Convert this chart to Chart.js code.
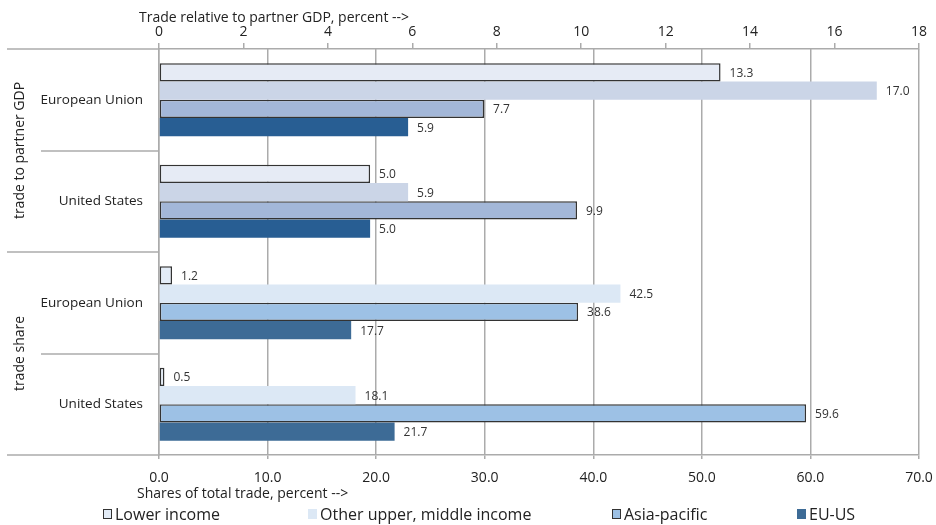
<!DOCTYPE html>
<html>
<head>
<meta charset="utf-8">
<script src="https://cdn.jsdelivr.net/npm/chart.js@4.4.1/dist/chart.umd.min.js"></script>
<style>
body{margin:0;background:#fff;font-family:"Open Sans",sans-serif;}
#caja{position:relative;width:936px;height:525px;}
.leyenda{position:absolute;top:503px;display:flex;align-items:center;font-size:16px;color:#222;white-space:nowrap;height:22px;}
.cuadro{display:inline-block;width:9px;height:10px;margin-right:3px;box-sizing:border-box;}
</style>
</head>
<body>

<div id="caja">
<canvas id="grafico" width="936" height="525"></canvas>
<div id="leyenda"></div>
</div>

<script>

/* ============================= */
/* DATOS */
/* ============================= */

const categorias = ["European Union","United States","European Union","United States"];

const bloques = ["trade to partner GDP","trade share"];

const series = ["Lower income","Other upper, middle income","Asia-pacific","EU-US"];

// filas 0-1: comercio / PIB socio (eje superior), filas 2-3: participacion (eje inferior)
const ingresoBajo = [13.3, 5.0, 1.2, 0.5];
const otrosIngresos = [17.0, 5.9, 42.5, 18.1];
const asiaPacifico = [7.7, 9.9, 38.6, 59.6];
const ueEeuu = [5.9, 5.0, 17.7, 21.7];

const tituloSuperior = "Trade relative to partner GDP, percent -->";
const tituloInferior = "Shares of total trade, percent -->";

const maxSuperior = 18;
const pasoSuperior = 2;
const maxInferior = 70;
const pasoInferior = 10;


/* ============================= */
/* COLORES */
/* ============================= */

const coloresPIB = ["#e6ebf5","#cbd5e7","#a3b7d8","#285e93"];
const coloresParticipacion = ["#e3ecf7","#dce8f5","#9dc1e5","#3d6b96"];
const bordes = [1.5, 0, 1.5, 0];

const gris = "#ababab";
const texto = "#222";


/* ============================= */
/* ARMAR DATASETS */
/* ============================= */

const valores = [ingresoBajo, otrosIngresos, asiaPacifico, ueEeuu];

let datasets = [];

valores.forEach((v, i)=>{

datasets.push({
label: series[i],
stack: "s" + i,
xAxisID: "x2",
data: [v[0], v[1], null, null],
backgroundColor: coloresPIB[i],
borderColor: "#333",
borderWidth: bordes[i],
borderSkipped: false
});

datasets.push({
label: series[i],
stack: "s" + i,
xAxisID: "x",
data: [null, null, v[2], v[3]],
backgroundColor: coloresParticipacion[i],
borderColor: "#333",
borderWidth: bordes[i],
borderSkipped: false
});

});


/* ============================= */
/* PLUGIN: ETIQUETAS Y DIVISIONES */
/* ============================= */

const extras = {

id: "extras",

afterDraw(chart){

const ctx = chart.ctx;
const area = chart.chartArea;
const y = chart.scales.y;

ctx.save();

/* valores al final de cada barra */

ctx.font = "12px 'Open Sans'";
ctx.fillStyle = "#333";
ctx.textAlign = "left";
ctx.textBaseline = "middle";

chart.data.datasets.forEach((ds, i)=>{

const meta = chart.getDatasetMeta(i);

meta.data.forEach((barra, j)=>{

const valor = ds.data[j];

if(valor === null) return;

ctx.fillText(valor.toFixed(1), barra.x + 9, barra.y + 1);

});

});


/* lineas separadoras a la izquierda */

let cortes = [area.top];

for(let i = 0; i < categorias.length - 1; i++){
cortes.push((y.getPixelForValue(i) + y.getPixelForValue(i + 1)) / 2);
}

cortes.push(area.bottom);

ctx.strokeStyle = gris;
ctx.lineWidth = 1.5;

cortes.forEach((c, i)=>{

let inicio = (i % 2 === 0) ? 7 : 41;

ctx.beginPath();
ctx.moveTo(inicio, Math.round(c));
ctx.lineTo(area.left, Math.round(c));
ctx.stroke();

});


/* titulos de bloque (rotados) */

ctx.font = "14px 'Open Sans'";
ctx.fillStyle = texto;
ctx.textAlign = "center";

bloques.forEach((b, i)=>{

let centro = cortes[i * 2 + 1];

ctx.save();
ctx.translate(20, centro);
ctx.rotate(-Math.PI / 2);
ctx.fillText(b, 0, 0);
ctx.restore();

});


/* titulos de ejes */

ctx.textAlign = "left";
ctx.fillText(tituloSuperior, 139, 18);
ctx.fillText(tituloInferior, 137, 494);

ctx.restore();

}

};


/* ============================= */
/* GRAFICO */
/* ============================= */

const fuente = { family: "'Open Sans'", size: 14 };

new Chart(document.getElementById("grafico"), {

type: "bar",

data: {
labels: categorias,
datasets: datasets
},

options: {

responsive: false,
animation: false,
indexAxis: "y",

layout: {
padding: { left: 0, right: 17, top: 0, bottom: 20 }
},

datasets: {
bar: {
categoryPercentage: 0.72,
barPercentage: 1
}
},

plugins: {
legend: { display: false },
tooltip: { enabled: false }
},

scales: {

y: {
afterFit: (s)=>{ s.width = 159; s.paddingRight = 0; },
grid: { display: false },
border: { display: true, color: gris, width: 1.5 },
ticks: { color: texto, font: { family: "'Open Sans'", size: 13.5 }, padding: 8 }
},

x: {
position: "bottom",
stacked: false,
min: 0,
max: maxInferior,
afterFit: (s)=>{ s.height = 50; s.paddingRight = 0; },
grid: { color: gris, lineWidth: 1.5, tickLength: 4 },
border: { color: gris, width: 1.5 },
ticks: {
stepSize: pasoInferior,
color: texto,
font: fuente,
padding: 11,
maxRotation: 0,
callback: (v)=> v.toFixed(1)
}
},

x2: {
position: "top",
stacked: false,
min: 0,
max: maxSuperior,
afterFit: (s)=>{ s.height = 49; s.paddingRight = 0; },
grid: { color: gris, lineWidth: 1.5, drawOnChartArea: false, tickLength: 6 },
border: { color: gris, width: 1.5 },
ticks: {
stepSize: pasoSuperior,
color: texto,
font: fuente,
padding: 3,
maxRotation: 0
}
}

}

},

plugins: [extras]

});


/* ============================= */
/* LEYENDA */
/* ============================= */

const posLeyenda = [103, 308, 612, 797];
const bordeLeyenda = ["1.5px solid #333", "none", "1.5px solid #333", "none"];

const leyenda = document.getElementById("leyenda");

series.forEach((s, i)=>{

let item = document.createElement("div");
item.className = "leyenda";
item.style.left = posLeyenda[i] + "px";

let cuadro = document.createElement("span");
cuadro.className = "cuadro";
cuadro.style.background = coloresParticipacion[i];
cuadro.style.border = bordeLeyenda[i];

item.appendChild(cuadro);
item.appendChild(document.createTextNode(s));

leyenda.appendChild(item);

});

</script>
</body>
</html>
